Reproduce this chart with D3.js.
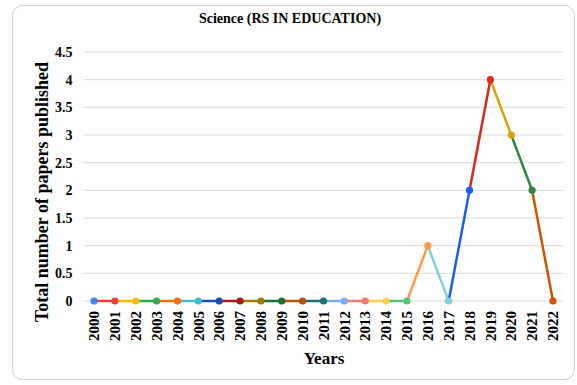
<!DOCTYPE html>
<html>
<head>
<meta charset="utf-8">
<script src="https://cdn.jsdelivr.net/npm/d3@7"></script>
<style>
  html, body { margin: 0; padding: 0; background: #fff; }
</style>
</head>
<body>
<svg id="chart" width="577" height="385"></svg>
<script>
const years = ["2000","2001","2002","2003","2004","2005","2006","2007","2008","2009","2010","2011",
  "2012","2013","2014","2015","2016","2017","2018","2019","2020","2021","2022"];
const papers = [0,0,0,0,0,0,0,0,0,0,0,0,0,0,0,0,1,0,2,4,3,2,0];
const pointColors = ["#4285f4","#ea4335","#fbbc04","#34a853","#ff6d01","#46bdc6","#1a4fb0","#a51c16",
  "#9c7a0c","#1e6b3a","#b3520f","#1f7077","#7baaf7","#f07b72","#fcd04f","#57c27a","#ff994d","#7ed1d7",
  "#1a5ff0","#d62a1f","#d4a20a","#2e8540","#cc5500"];
const yTicks = [0,0.5,1,1.5,2,2.5,3,3.5,4,4.5];
const titleText = "Science (RS IN EDUCATION)";
const xTitle = "Years";
const yTitle = "Total number of papers published";

const FONT = "'Liberation Serif', 'Times New Roman', serif";
const svg = d3.select("#chart");
const plot = { left: 83.6, right: 563.4, top: 52, bottom: 301 };

// outer frame
svg.append("rect").attr("x", 12.5).attr("y", 5.5).attr("width", 562).attr("height", 374)
  .attr("rx", 10).attr("fill", "#fff").attr("stroke", "#d0d0d0").attr("stroke-width", 1);

const x = d3.scaleBand().domain(years).range([plot.left, plot.right]);
const y = d3.scaleLinear().domain([0, 4.5]).range([plot.bottom, plot.top]);

// gridlines
svg.append("g").selectAll("line").data(yTicks).join("line")
  .attr("x1", plot.left).attr("x2", plot.right)
  .attr("y1", d => y(d)).attr("y2", d => y(d))
  .attr("stroke", "#d9d9d9").attr("stroke-width", 1);

// y axis labels
const yAxis = d3.axisLeft(y).tickValues(yTicks).tickSize(0).tickPadding(11).tickFormat(d3.format("~g"));
const yg = svg.append("g").attr("transform", `translate(${plot.left},0)`).call(yAxis)
  .attr("font-family", FONT).attr("font-size", 14).attr("font-weight", "bold");
yg.select(".domain").remove();
yg.selectAll("text").attr("fill", "#000");

// x axis labels (rotated)
const xAxis = d3.axisBottom(x).tickSize(0).tickPadding(0);
const xg = svg.append("g").attr("transform", `translate(0,${plot.bottom})`).call(xAxis)
  .attr("font-family", FONT).attr("font-size", 15).attr("font-weight", "bold");
xg.select(".domain").remove();
xg.selectAll("text")
  .attr("fill", "#000")
  .attr("text-anchor", "end").attr("dy", "0.35em")
  .attr("transform", "translate(0,10) rotate(-90)").attr("x", 0).attr("y", 0);

// line segments, each coloured like the point it leads into
const cx = (i) => x(years[i]) + x.bandwidth() / 2;
const segs = d3.range(1, years.length);
svg.append("g").selectAll("line").data(segs).join("line")
  .attr("x1", i => cx(i - 1)).attr("y1", i => y(papers[i - 1]))
  .attr("x2", i => cx(i)).attr("y2", i => y(papers[i]))
  .attr("stroke", i => pointColors[i]).attr("stroke-width", 2.5).attr("stroke-linecap", "round");

// markers
svg.append("g").selectAll("circle").data(years).join("circle")
  .attr("cx", (d, i) => cx(i)).attr("cy", (d, i) => y(papers[i]))
  .attr("r", 3.6).attr("fill", (d, i) => pointColors[i]);

// titles
const t = svg.append("g").attr("font-family", FONT).attr("font-weight", "bold").attr("fill", "#000");
t.append("text").attr("x", 290).attr("y", 23).attr("text-anchor", "middle")
  .attr("font-size", 14).text(titleText);
t.append("text").attr("x", 324).attr("y", 364).attr("text-anchor", "middle")
  .attr("font-size", 17).text(xTitle);
t.append("text").attr("transform", `translate(48,192) rotate(-90)`)
  .attr("text-anchor", "middle").attr("font-size", 18).text(yTitle);
</script>
</body>
</html>
